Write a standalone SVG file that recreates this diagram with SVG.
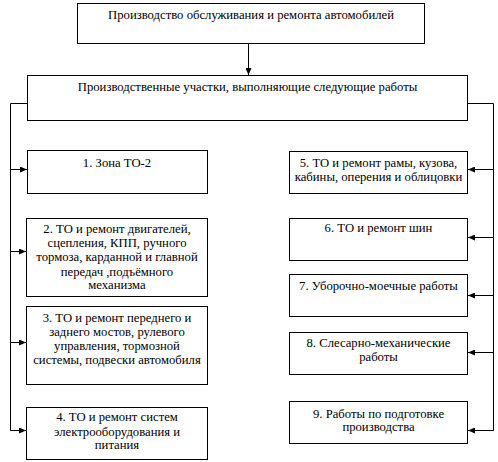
<svg xmlns="http://www.w3.org/2000/svg" width="498" height="462" viewBox="0 0 498 462">
<style>
.box{fill:#fff;stroke:#000;stroke-width:1}
.ln{fill:none;stroke:#000;stroke-width:1}
text{font-family:"Liberation Serif","Times New Roman",serif;font-size:12.7px;fill:#000;text-anchor:middle}
</style>
<defs>
<marker id="ah" markerWidth="7" markerHeight="6" refX="7" refY="3" orient="auto" markerUnits="userSpaceOnUse">
<path d="M0,0 L7,3 L0,6 Z" fill="#000"/>
</marker>
</defs>
<rect width="498" height="462" fill="#fff"/>
<g id="connectors">
<line class="ln" x1="248.5" y1="43" x2="248.5" y2="75" marker-end="url(#ah)"/>
<polyline class="ln" points="28,103.5 10.5,103.5 10.5,430.5"/>
<polyline class="ln" points="467,103.5 493.5,103.5 493.5,430.5"/>
<line class="ln" x1="10.5" y1="169.5" x2="27" y2="169.5" marker-end="url(#ah)"/>
<line class="ln" x1="10.5" y1="251.5" x2="26" y2="251.5" marker-end="url(#ah)"/>
<line class="ln" x1="10.5" y1="342.5" x2="26" y2="342.5" marker-end="url(#ah)"/>
<line class="ln" x1="10.5" y1="430.5" x2="26" y2="430.5" marker-end="url(#ah)"/>
<line class="ln" x1="493.5" y1="169.5" x2="468" y2="169.5" marker-end="url(#ah)"/>
<line class="ln" x1="493.5" y1="237.5" x2="468" y2="237.5" marker-end="url(#ah)"/>
<line class="ln" x1="493.5" y1="295.5" x2="468" y2="295.5" marker-end="url(#ah)"/>
<line class="ln" x1="493.5" y1="352.5" x2="468" y2="352.5" marker-end="url(#ah)"/>
<line class="ln" x1="493.5" y1="430.5" x2="468" y2="430.5" marker-end="url(#ah)"/>
</g>
<g id="top">
<rect class="box" x="77.5" y="3.5" width="347" height="40"/>
<text x="251" y="19">Производство обслуживания и ремонта автомобилей</text>
</g>
<g id="sections">
<rect class="box" x="27.5" y="75.5" width="440" height="45"/>
<text x="247.5" y="91">Производственные участки, выполняющие следующие работы</text>
</g>
<g id="n1">
<rect class="box" x="27.5" y="150.5" width="180" height="43"/>
<text x="117" y="167">1. Зона ТО-2</text>
</g>
<g id="n2">
<rect class="box" x="26.5" y="218.5" width="181" height="78"/>
<text x="117" y="233">2. ТО и ремонт двигателей,</text>
<text x="117" y="247">сцепления, КПП, ручного</text>
<text x="117" y="261">тормоза, карданной и главной</text>
<text x="117" y="276">передач ,подъёмного</text>
<text x="117" y="289">механизма</text>
</g>
<g id="n3">
<rect class="box" x="26.5" y="306.5" width="181" height="78"/>
<text x="117" y="322">3. ТО и ремонт переднего и</text>
<text x="117" y="336">заднего мостов, рулевого</text>
<text x="117" y="350">управления, тормозной</text>
<text x="117" y="364">системы, подвески автомобиля</text>
</g>
<g id="n4">
<rect class="box" x="26.5" y="407.5" width="181" height="52"/>
<text x="117" y="421">4. ТО и ремонт систем</text>
<text x="117" y="436">электрооборудования и</text>
<text x="117" y="449">питания</text>
</g>
<g id="n5">
<rect class="box" x="289.5" y="151.5" width="178" height="42"/>
<text x="378.5" y="167">5. ТО и ремонт рамы, кузова,</text>
<text x="378.5" y="181">кабины, оперения и облицовки</text>
</g>
<g id="n6">
<rect class="box" x="289.5" y="218.5" width="178" height="42"/>
<text x="378.5" y="232">6. ТО и ремонт шин</text>
</g>
<g id="n7">
<rect class="box" x="289.5" y="274.5" width="178" height="42"/>
<text x="378.5" y="290">7. Уборочно-моечные работы</text>
</g>
<g id="n8">
<rect class="box" x="289.5" y="332.5" width="178" height="42"/>
<text x="378.5" y="347">8. Слесарно-механические</text>
<text x="378.5" y="361">работы</text>
</g>
<g id="n9">
<rect class="box" x="289.5" y="401.5" width="178" height="42"/>
<text x="378.5" y="418">9. Работы по подготовке</text>
<text x="378.5" y="431">производства</text>
</g>
</svg>
